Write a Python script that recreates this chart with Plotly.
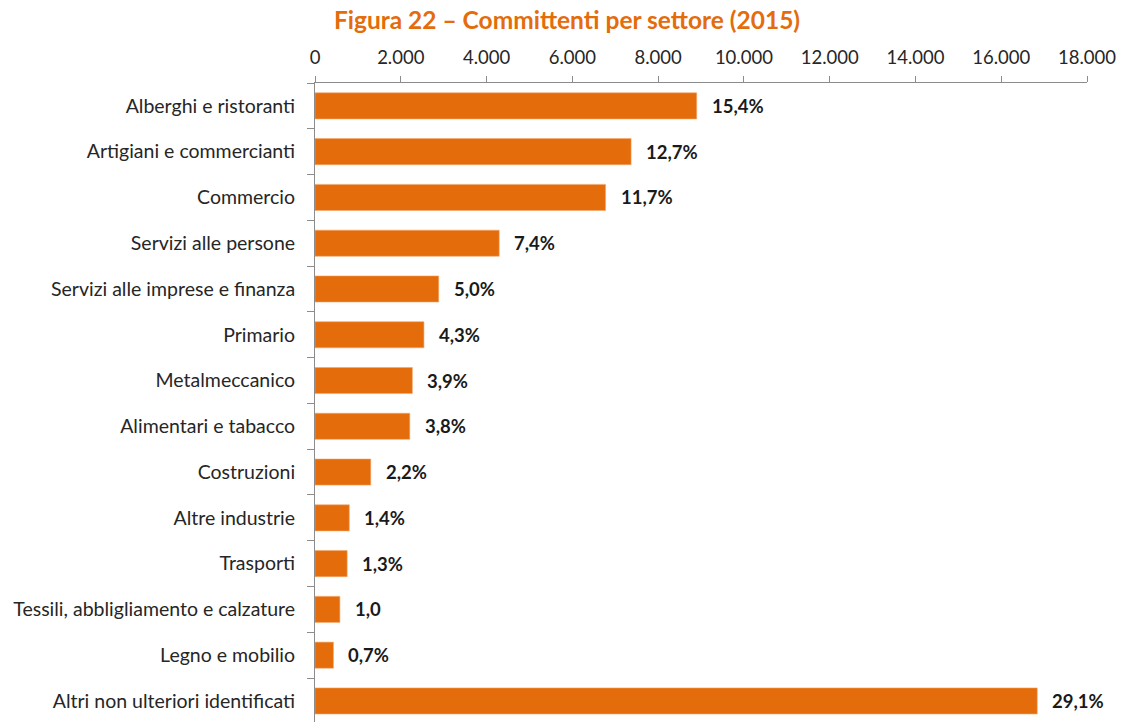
import plotly.graph_objects as go

# Committenti per settore, anno 2015
settori = [
    "Alberghi e ristoranti",
    "Artigiani e commercianti",
    "Commercio",
    "Servizi alle persone",
    "Servizi alle imprese e finanza",
    "Primario",
    "Metalmeccanico",
    "Alimentari e tabacco",
    "Costruzioni",
    "Altre industrie",
    "Trasporti",
    "Tessili, abbligliamento e calzature",
    "Legno e mobilio",
    "Altri non ulteriori identificati",
]
committenti = [8900, 7370, 6775, 4295, 2885, 2540, 2270, 2210, 1300, 800, 750, 580, 430, 16840]
quote = ["15,4%", "12,7%", "11,7%", "7,4%", "5,0%", "4,3%", "3,9%", "3,8%",
         "2,2%", "1,4%", "1,3%", "1,0", "0,7%", "29,1%"]
tick_valori = list(range(0, 18001, 2000))
tick_testi = [f"{v:,}".replace(",", ".") for v in tick_valori]

ARANCIO = "#E46C0A"
FONT = "Lato"

fig = go.Figure(
    go.Bar(
        x=committenti,
        y=settori,
        orientation="h",
        marker=dict(color=ARANCIO, line=dict(color="#F2A66A", width=0.6)),
        hoverinfo="x+y",
    )
)

# etichette percentuali a destra delle barre
for s, v, q in zip(settori, committenti, quote):
    fig.add_annotation(
        x=v, y=s, text=f"<b>{q}</b>", showarrow=False,
        xanchor="left", yanchor="middle", xshift=13,
        font=dict(family=FONT, size=18.5, color="#1A1A1A"),
    )

fig.update_layout(
    width=1125,
    height=722,
    margin=dict(l=315, r=38, t=83, b=0),
    paper_bgcolor="white",
    plot_bgcolor="white",
    bargap=0.43,
    showlegend=False,
    title=dict(
        text="<b>Figura 22 – Committenti per settore (2015)</b>",
        x=0.504, xref="container", xanchor="center",
        y=1 - 20 / 722, yref="container", yanchor="middle",
        font=dict(family=FONT, size=24.5, color=ARANCIO),
    ),
    xaxis=dict(
        side="top",
        range=[0, 18000],
        tickvals=tick_valori,
        ticktext=tick_testi,
        showgrid=False,
        zeroline=False,
        showline=True,
        linecolor="#8C8C8C",
        linewidth=1,
        ticks="outside",
        ticklen=6,
        tickcolor="#8C8C8C",
        ticklabelstandoff=5,
        tickfont=dict(family=FONT, size=18.5, color="#262626"),
    ),
    yaxis=dict(
        type="category",
        categoryorder="array",
        categoryarray=settori,
        range=[13.46, -0.5],
        showgrid=False,
        showline=True,
        linecolor="#8C8C8C",
        linewidth=1,
        ticks="outside",
        ticklen=7,
        tickcolor="#8C8C8C",
        tickson="boundaries",
        ticklabelstandoff=15,
        tickfont=dict(family=FONT, size=19.5, color="#262626"),
    ),
)

fig.write_html("out.html")
